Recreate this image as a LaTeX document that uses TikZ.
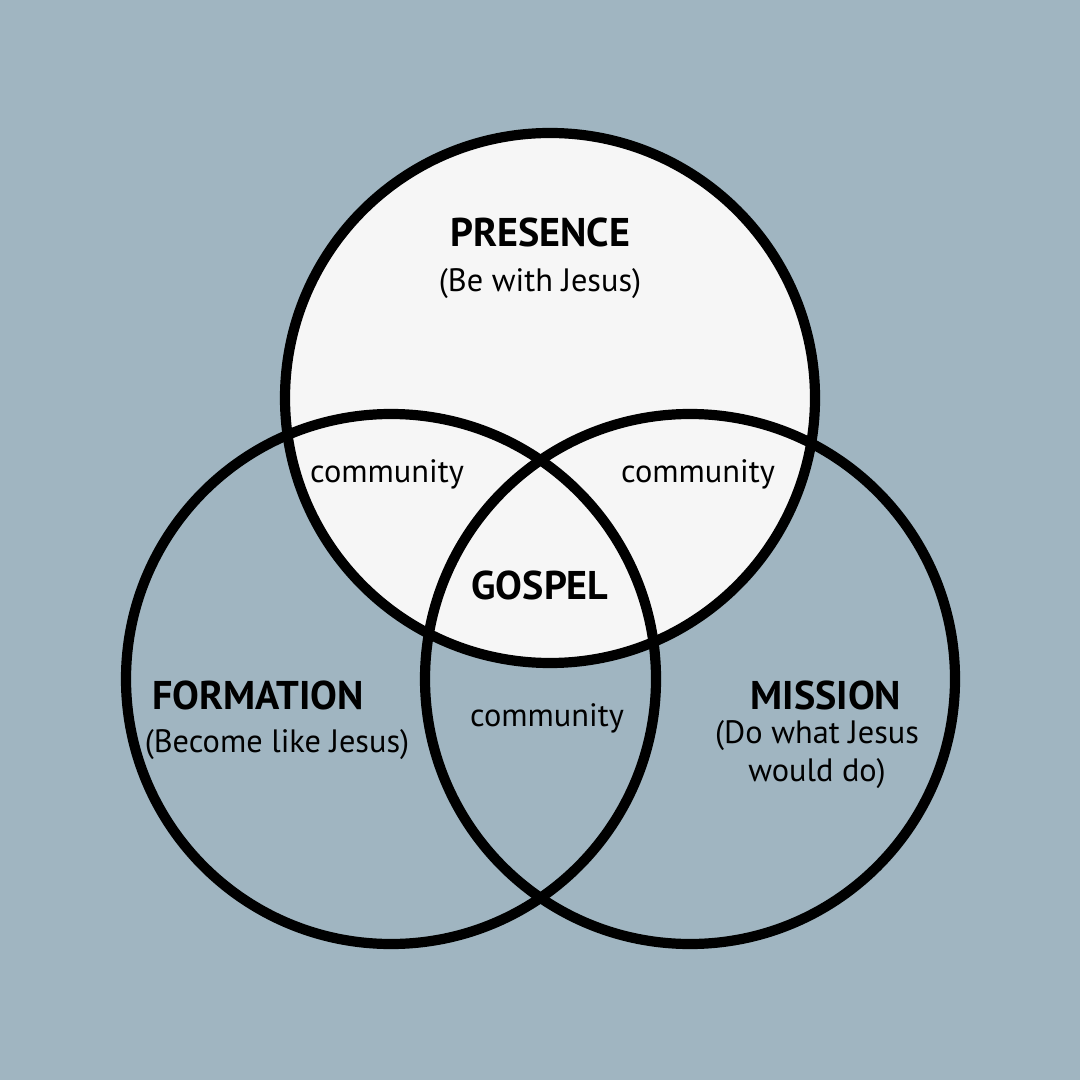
\documentclass[tikz,border=0pt]{standalone}
\usepackage{fontspec}
\setmainfont{PT Sans}
\usetikzlibrary{calc}
\definecolor{bgblue}{RGB}{160,181,193}
\definecolor{topfill}{RGB}{246,246,246}
\tikzset{
    ring/.style={line width=2.9pt, draw=black},
    headlabel/.style={font=\bfseries\fontsize{11.4}{13}\selectfont, color=black, inner sep=0pt},
    sublabel/.style={font=\fontsize{9.2}{10.8}\selectfont, color=black, inner sep=0pt, align=center},
}
\begin{document}
\begin{tikzpicture}[x=0.01cm,y=-0.01cm]
    \fill[bgblue] (0,0) rectangle (1080,1080);
    \useasboundingbox (0,0) rectangle (1080,1080);

    \coordinate (top) at (550,398);
    \coordinate (left) at (391,679);
    \coordinate (right) at (690,679);

    \fill[topfill] (top) circle[radius=265];

    \draw[ring] (top) circle[radius=265];
    \draw[ring] (left) circle[radius=265];
    \draw[ring] (right) circle[radius=265];

    \node[headlabel] (presence) at (540,232) {PRESENCE};
    \node[sublabel] (presencesub) at (540,284) {(Be with Jesus)};

    \node[sublabel] (commleft) at (387,474) {community};
    \node[sublabel] (commright) at (698,474) {community};
    \node[headlabel] (gospel) at (540,585) {GOSPEL};
    \node[sublabel] (commbottom) at (547,718) {community};

    \node[headlabel] (formation) at (258,695) {FORMATION};
    \node[sublabel] (formationsub) at (277,745) {(Become like Jesus)};

    \node[headlabel] (mission) at (826,695) {MISSION};
    \node[sublabel] (missionsub) at (817,755) {(Do what Jesus\\would do)};
\end{tikzpicture}
\end{document}
